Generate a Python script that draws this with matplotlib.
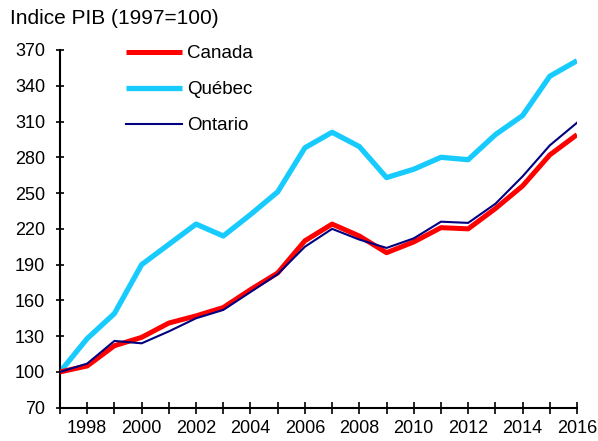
import matplotlib
matplotlib.use("Agg")
import matplotlib.pyplot as plt

plt.rcParams['font.family'] = ['Liberation Sans', 'DejaVu Sans']

years = list(range(1997, 2017))
canada = [100, 105, 122, 129, 141, 147, 154, 169, 183, 210, 224, 214, 200, 209, 221, 220, 237, 256, 282, 299]
quebec = [100, 128, 149, 190, 207, 224, 214, 232, 251, 288, 301, 289, 263, 270, 280, 278, 299, 315, 348, 361]
ontario = [100, 107, 126, 124, 134, 145, 152, 167, 182, 205, 220, 211, 204, 212, 226, 225, 241, 264, 290, 309]
yticks = [70, 100, 130, 160, 190, 220, 250, 280, 310, 340, 370]
xlabels = list(range(1998, 2017, 2))

fig = plt.figure(figsize=(5.98, 4.41), dpi=100)
ax = fig.add_axes([60/598, 1 - 407.7/441, (577-60)/598, (407.7-50)/441])

lq, = ax.plot(years, quebec, color='#18CBFF', lw=3.8, label='Québec', solid_capstyle='butt', zorder=2)
lc, = ax.plot(years, canada, color='#FF0000', lw=3.6, label='Canada', solid_capstyle='butt', zorder=3)
lo, = ax.plot(years, ontario, color='#000080', lw=1.5, label='Ontario', zorder=4)

ax.set_xlim(1997, 2016)
ax.set_ylim(70, 370)
ax.set_yticks(yticks)
ax.set_xticks(xlabels)
ax.set_xticks(years, minor=True)

for s in ['top', 'right']:
    ax.spines[s].set_visible(False)
for s in ['left', 'bottom']:
    ax.spines[s].set_linewidth(1.5)

ax.tick_params(axis='y', direction='inout', length=5.5, width=1.2, labelsize=13, pad=8)
ax.tick_params(axis='x', which='both', direction='inout', length=8, width=1.2, labelsize=13, pad=5)

fig.text(10/598, 1 - 18/441, 'Indice PIB (1997=100)', fontsize=15, va='center', ha='left')

ax.legend(handles=[lc, lq, lo], loc='upper left', bbox_to_anchor=(58/517, 1.034),
          frameon=False, fontsize=13.5, handlelength=3.0, handletextpad=0.3,
          labelspacing=1.0, borderaxespad=0)

fig.savefig('out.png', dpi=100)
